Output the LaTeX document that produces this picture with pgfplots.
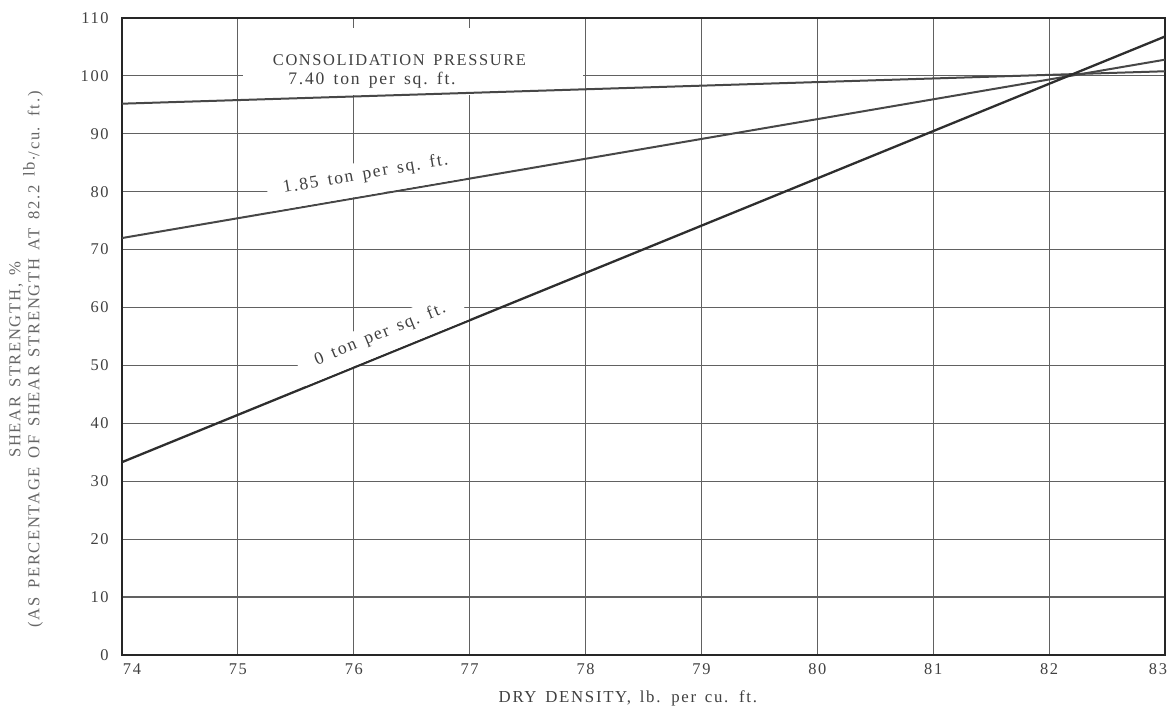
\documentclass[border=0pt]{standalone}
\usepackage{fontspec}
\setmainfont{Liberation Serif}[LetterSpace=10,WordSpace=1.5]
\usepackage{pgfplots}
\pgfplotsset{compat=1.18}
\begin{document}
\begin{tikzpicture}
\begin{axis}[
  at={(0,0)}, anchor=south west,
  scale only axis, width=521.5pt, height=318.5pt,
  xmin=74, xmax=83, ymin=0, ymax=110,
  xtick={74,75,...,83}, ytick={0,10,...,110},
  xticklabels={\makebox[0pt][l]{\hspace{0.5pt}74},75,76,77,78,79,80,81,82,\makebox[0pt][r]{83\hspace{-1pt}}},
  grid=major,
  major grid style={draw=black!62, line width=0.6pt},
  axis line style={black!85, line width=1.1pt},
  major tick length=0pt,
  /pgf/number format/assume math mode=true,
  ticklabel style={font=\fontsize{8.2}{9}\selectfont, text=black!75},
  xticklabel style={inner sep=0pt, yshift=-4pt},
  yticklabel style={inner sep=0pt, xshift=-6.5pt},
  xlabel={DRY DENSITY, lb. per cu. ft.},
  xlabel style={at={(axis description cs:0.485,-0.0675)}, anchor=center,
    font=\fontsize{8.4}{9}\selectfont, text=black!75},
  ylabel={SHEAR STRENGTH, \%\\(AS PERCENTAGE OF SHEAR STRENGTH AT 82.2 \raisebox{0.6ex}{lb.}/cu. ft.)},
  ylabel style={at={(axis description cs:-0.092,0.464)}, anchor=center, align=center,
    font=\fontsize{8.3}{9.5}\selectfont, text=black!60},
]
\fill[white] (axis cs:75.04,96.7) rectangle (axis cs:77.98,108.3);
\node[anchor=base, font=\fontsize{8.2}{9}\selectfont, text=black!75] at (axis cs:76.394,101.88) {CONSOLIDATION PRESSURE};
\node[anchor=base, font=\fontsize{8.8}{9}\selectfont, text=black!75] at (axis cs:76.157,98.6) {7.40 ton per sq.\ ft.};
\addplot[draw=black!72, line width=1pt] coordinates {(74,95.2) (83,100.8)};
\addplot[draw=black!72, line width=1pt] coordinates {(74,72.0) (83,102.8)}
  node[sloped, pos=0.237, anchor=south, fill=white, inner xsep=8pt, inner ysep=2.5pt, outer sep=0.6pt,
       font=\fontsize{8.8}{9}\selectfont, text=black!75] {\rule[-5.5pt]{0pt}{0pt}1.85 ton per sq.\ ft.};
\addplot[draw=black!82, line width=1.15pt] coordinates {(74,33.3) (83,106.8)}
  node[sloped, pos=0.255, anchor=south, fill=white, inner xsep=9pt, inner ysep=2.5pt, outer sep=0.6pt,
       font=\fontsize{8.8}{9}\selectfont, text=black!75] {\rule[-5pt]{0pt}{0pt}0 ton per sq.\ ft.};
\end{axis}
\pgfresetboundingbox
\path (-61pt,-30pt) rectangle (523.5pt,327.5pt);
\end{tikzpicture}
\end{document}
